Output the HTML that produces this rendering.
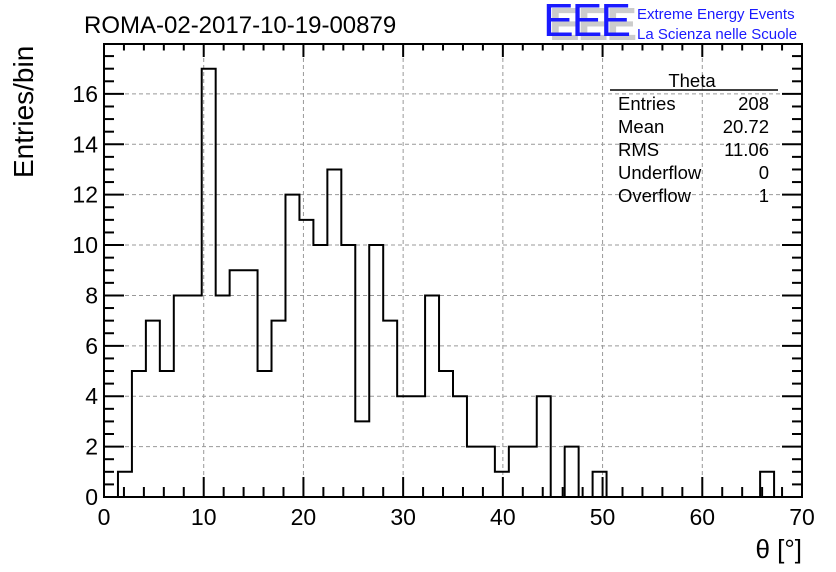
<!DOCTYPE html>
<html><head><meta charset="utf-8"><style>
html,body{margin:0;padding:0;background:#fff;}
svg{display:block;font-family:"Liberation Sans",sans-serif;}
</style></head><body>
<svg id="c" width="836" height="572" viewBox="0 0 836 572">
<rect width="836" height="572" fill="#fff"/>
<text x="84" y="33" font-size="24" fill="#000">ROMA-02-2017-10-19-00879</text>
<g>
<text x="549" y="40" font-size="46" fill="#ccc" font-weight="bold" letter-spacing="-2">EEE</text>
<text x="543" y="36" font-size="46" fill="#1a1aff" letter-spacing="-2">EEE</text>
<text x="637" y="19" font-size="15" fill="#1a1aff">Extreme Energy Events</text>
<text x="637" y="39" font-size="15" fill="#1a1aff">La Scienza nelle Scuole</text>
</g>
<g id="grid"></g>
<g id="ticks"></g>
<path id="hist" fill="none" stroke="#000" stroke-width="2"/>
<rect x="104" y="44" width="698" height="453" fill="none" stroke="#000" stroke-width="2"/>
<g id="labels" font-size="23" fill="#000"></g>
<text transform="translate(33,178) rotate(-90)" font-size="28" text-anchor="start">Entries/bin</text>
<text x="802" y="558" font-size="26" text-anchor="end">θ [°]</text>
<g font-size="18.5">
<text x="692" y="87" text-anchor="middle">Theta</text>
<line x1="610" y1="90" x2="778" y2="90" stroke="#000" stroke-width="1.5"/>
<text x="618" y="110">Entries</text><text x="769" y="110" text-anchor="end">208</text>
<text x="618" y="133">Mean</text><text x="769" y="133" text-anchor="end">20.72</text>
<text x="618" y="156">RMS</text><text x="769" y="156" text-anchor="end">11.06</text>
<text x="618" y="179">Underflow</text><text x="769" y="179" text-anchor="end">0</text>
<text x="618" y="202">Overflow</text><text x="769" y="202" text-anchor="end">1</text>
</g>
</svg>
<script>
const binCounts=[0,1,5,7,5,8,8,17,8,9,9,5,7,12,11,10,13,10,3,10,7,4,4,8,5,4,2,2,1,2,2,4,0,2,0,1,0,0,0,0,0,0,0,0,0,0,0,1,0,0];
const xTickLabels=[0,10,20,30,40,50,60,70];
const yTickLabels=[0,2,4,6,8,10,12,14,16];
const xMin=0,xMax=70,yMin=0,yMax=17.98;
const L=104,R=802,T=44,B=497;
const NS="http://www.w3.org/2000/svg";
function sx(v){return L+(v-xMin)/(xMax-xMin)*(R-L);}
function sy(v){return B-(v-yMin)/(yMax-yMin)*(B-T);}
function mk(tag,attrs,parent){const e=document.createElementNS(NS,tag);for(const k in attrs)e.setAttribute(k,attrs[k]);parent.appendChild(e);return e;}
const grid=document.getElementById('grid'),ticks=document.getElementById('ticks'),labels=document.getElementById('labels');
xTickLabels.forEach(v=>{
  if(v>xMin&&v<xMax){const g=mk('line',{x1:sx(v),x2:sx(v),y1:T,y2:B,stroke:'#999','stroke-dasharray':'4,3','stroke-width':1},grid);
  
  }
  const t=mk('text',{x:sx(v),y:B+28,'text-anchor':'middle'},labels);t.textContent=v;
  
  
});
yTickLabels.forEach(v=>{
  if(v>yMin){const g=mk('line',{x1:L,x2:R,y1:sy(v),y2:sy(v),stroke:'#999','stroke-dasharray':'4,3','stroke-width':1},grid);
  
  }
  const t=mk('text',{x:L-6,y:sy(v)+8,'text-anchor':'end'},labels);t.textContent=v;
  
  
});
for(let v=xMin;v<=xMax;v+=2){const major=v%10===0;const len=major?20:10;
  mk('line',{x1:sx(v),x2:sx(v),y1:B,y2:B-len,stroke:'#000','stroke-width':2},ticks);
  mk('line',{x1:sx(v),x2:sx(v),y1:T,y2:T+len*0.65,stroke:'#000','stroke-width':2},ticks);}
for(let v=0;v<=yMax;v+=0.5){const major=v%2===0;const len=major?20:10;
  mk('line',{x1:L,x2:L+len,y1:sy(v),y2:sy(v),stroke:'#000','stroke-width':2},ticks);
  mk('line',{x1:R,x2:R-len,y1:sy(v),y2:sy(v),stroke:'#000','stroke-width':2},ticks);}
const w=(xMax-xMin)/binCounts.length;
let d='M'+sx(xMin)+','+sy(0);
binCounts.forEach((c,i)=>{d+=' L'+sx(xMin+i*w)+','+sy(c)+' L'+sx(xMin+(i+1)*w)+','+sy(c);});
d+=' L'+sx(xMax)+','+sy(0);
document.getElementById('hist').setAttribute('d',d);
</script>
</body></html>
